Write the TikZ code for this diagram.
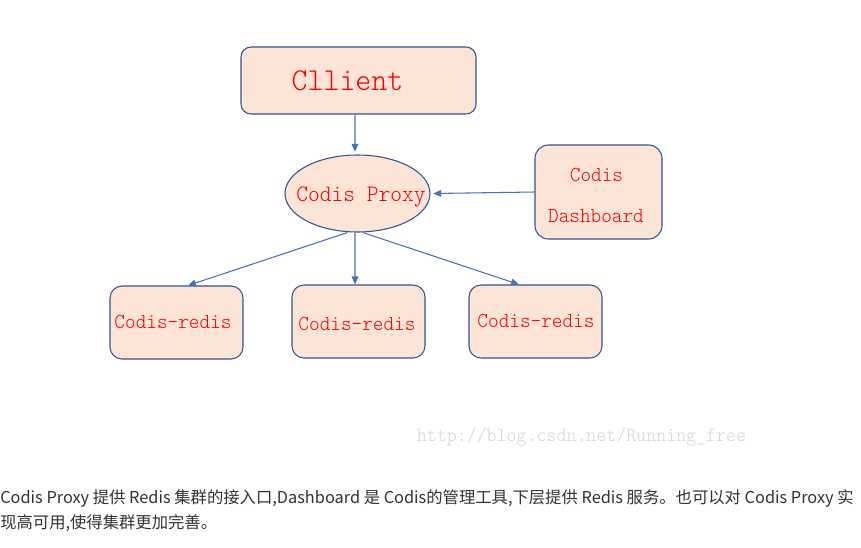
\documentclass[tikz,border=0pt]{standalone}
\usepackage{fontspec}
\setmainfont{Liberation Sans}
\newfontfamily\monof[FakeStretch=0.95]{Latin Modern Mono Light}
\newfontfamily\cjkf{Noto Sans CJK SC}
\usetikzlibrary{arrows.meta,shapes.geometric}
\definecolor{boxfill}{HTML}{FCE4D6}
\definecolor{boxline}{HTML}{2F5597}
\definecolor{arr}{HTML}{4472C4}
\definecolor{bodytxt}{HTML}{333333}
\definecolor{wmark}{HTML}{D6D6D6}
\begin{document}
\begin{tikzpicture}[x=0.75pt,y=-0.75pt,
  rbox/.style={draw=boxline, fill=boxfill, line width=0.8pt, inner sep=0pt},
  ebox/.style={ellipse, draw=boxline, fill=boxfill, line width=0.8pt, inner sep=0pt},
  lbl/.style={text=red, anchor=base, inner sep=0pt},
  conn/.style={draw=arr, line width=0.8pt, -{Triangle[length=6pt,width=5pt]}},
  body/.style={anchor=base west, inner sep=0pt, text=bodytxt, font=\cjkf\fontsize{12.25pt}{14pt}\selectfont}
]
\useasboundingbox (0,0) rectangle (861,547);
\fill[white] (0,0) rectangle (861,547);

% boxes
\node[rbox, rounded corners=7.5pt, minimum width=176.25pt, minimum height=50.25pt] (client) at (358.5,80.5) {};
\node[ebox, minimum width=108.75pt, minimum height=57.75pt] (proxy) at (357.5,193.5) {};
\node[rbox, rounded corners=10pt, minimum width=95.25pt, minimum height=70.5pt] (dash) at (598.5,192) {};
\node[rbox, rounded corners=9pt, minimum width=99.75pt, minimum height=54.75pt] (r1) at (176.5,322.5) {};
\node[rbox, rounded corners=9pt, minimum width=99.75pt, minimum height=54.75pt] (r2) at (358.5,321.5) {};
\node[rbox, rounded corners=9pt, minimum width=99.75pt, minimum height=54.75pt] (r3) at (535.5,321.5) {};

% labels
\node[lbl, font=\monof\fontsize{24pt}{28pt}\selectfont] (tclient) at (347.5,90) {Cllient};
\node[lbl, font=\monof\fontsize{17.7pt}{20pt}\selectfont] (tproxy) at (361,201) {Codis Proxy};
\node[lbl, font=\monof\fontsize{16pt}{19pt}\selectfont] (tdash1) at (596.5,181) {Codis};
\node[lbl, font=\monof\fontsize{16pt}{19pt}\selectfont] (tdash2) at (596,222) {Dashboard};
\node[lbl, font=\monof\fontsize{16pt}{19pt}\selectfont] (tr1) at (173,328) {Codis-redis};
\node[lbl, font=\monof\fontsize{16pt}{19pt}\selectfont] (tr2) at (357,330) {Codis-redis};
\node[lbl, font=\monof\fontsize{16pt}{19pt}\selectfont] (tr3) at (536,327) {Codis-redis};

% connectors
\draw[conn] ([xshift=-2.6pt]client.south) -- ([xshift=-1.9pt,yshift=2pt]proxy.north);
\draw[conn] (dash.west) -- ([xshift=2pt]proxy.east);
\draw[conn] ([xshift=-7.5pt]proxy.south) -- ([xshift=8.6pt]r1.north);
\draw[conn] ([xshift=-1.9pt]proxy.south) -- ([xshift=-2.6pt]r2.north);
\draw[conn] ([xshift=4pt]proxy.south) -- ([xshift=-12.4pt]r3.north);

% watermark
\node[anchor=base, inner sep=0pt, text=wmark, font=\monof\fontsize{15pt}{18pt}\selectfont] (wm) at (581.5,441) {http://blog.csdn.net/Running\_free};

% body text
\node[body] (line1) at (0,503) {Codis Proxy 提供 Redis 集群的接入口,Dashboard 是 Codis的管理工具,下层提供 Redis 服务。也可以对 Codis Proxy 实};
\node[body] (line2) at (0,528) {现高可用,使得集群更加完善。};
\end{tikzpicture}
\end{document}
